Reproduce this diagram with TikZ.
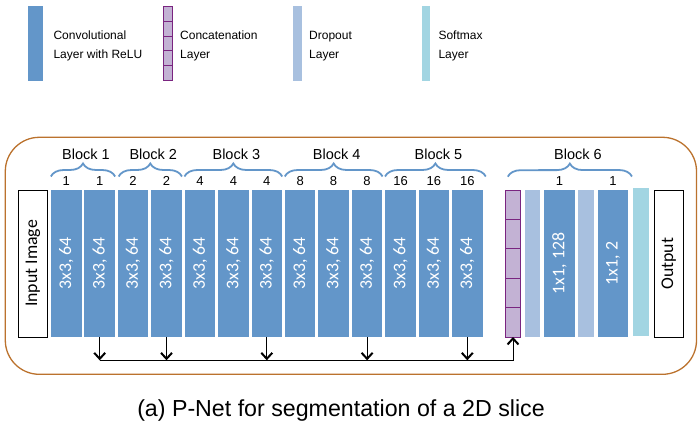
\documentclass[tikz,border=0pt]{standalone}
\usepackage{graphicx}
\usepackage{fontspec}
\setmainfont{Liberation Sans}
\newfontfamily\calibri{Carlito}
\usetikzlibrary{positioning,arrows.meta,decorations.pathreplacing}
\definecolor{convblue}{RGB}{99,150,201}
\definecolor{catfill}{RGB}{195,178,212}
\definecolor{catborder}{RGB}{122,36,128}
\definecolor{dropblue}{RGB}{168,192,223}
\definecolor{softblue}{RGB}{162,213,226}
\definecolor{framebrown}{RGB}{187,114,45}
\tikzset{
	conv/.style={fill=convblue,minimum width=30.5pt,minimum height=147pt,inner sep=0pt,
		text=white,font=\calibri\fontsize{17.8}{20}\selectfont},
	catcell/.style={draw=catborder,fill=catfill,line width=0.8pt,minimum width=15.4pt,
		minimum height=29.4pt,inner sep=0pt,outer sep=0pt},
	lcat/.style={catcell,minimum width=8.3pt,minimum height=14.94pt},
	drop/.style={fill=dropblue,minimum width=15.3pt,minimum height=147pt,inner sep=0pt},
	soft/.style={fill=softblue,minimum width=16pt,minimum height=147.7pt,inner sep=0pt},
	inbox/.style={draw,line width=0.9pt,minimum width=29.4pt,minimum height=147pt,inner sep=0pt,
		font=\calibri\fontsize{17.8}{20}\selectfont},
	frame/.style={draw=framebrown,line width=1.3pt,rounded corners=34pt,minimum width=691.2pt,
		minimum height=237pt,inner sep=0pt},
	brace/.style={decorate,decoration={brace,amplitude=13pt},draw=convblue,line width=1.8pt},
	blk/.style={font=\fontsize{14.5}{17}\selectfont,anchor=base,inner sep=0pt,yshift=17.4pt,xshift=3pt},
	num/.style={font=\fontsize{13}{15}\selectfont,anchor=base,inner sep=0pt},
	legtext/.style={anchor=west,align=left,inner sep=0pt,font=\fontsize{12}{18.3}\selectfont},
	skiparrow/.style={line width=1pt,-{Straight Barb[length=6pt,width=11pt,line width=2pt]}}
}
\begin{document}
\begin{tikzpicture}[x=1pt,y=1pt]
	\useasboundingbox (0,0) rectangle (700,426);
	% legend
	\node[conv,minimum width=15pt,minimum height=74.7pt] (lconv) at (35.8,382.65) {};
	\node[lcat] (lk1) at (167.9,412.5) {};
	\node[lcat,below=0pt of lk1] (lk2) {};
	\node[lcat,below=0pt of lk2] (lk3) {};
	\node[lcat,below=0pt of lk3] (lk4) {};
	\node[lcat,below=0pt of lk4] (lk5) {};
	\node[drop,minimum width=9pt,minimum height=74.7pt] (ldrop) at (297.2,382.65) {};
	\node[soft,minimum width=8.3pt,minimum height=74.7pt] (lsoft) at (426.2,382.65) {};
	\node[legtext] (tconv) at (53.3,380) {Convolutional\\Layer with ReLU};
	\node[legtext] (tcat) at (180,380) {Concatenation\\Layer};
	\node[legtext] (tdrop) at (309,380) {Dropout\\Layer};
	\node[legtext] (tsoft) at (438.3,380) {Softmax\\Layer};
	% network
	\node[frame] (net) at (350.9,170.2) {};
	\node[inbox] (input) at (33,162.5) {\rotatebox{90}{Input Image}};
	\node[conv] (c1) at (66.3,162.5) {\rotatebox{90}{3x3, 64}};
	\node[conv] (c2) at (99.7,162.5) {\rotatebox{90}{3x3, 64}};
	\node[conv] (c3) at (133.1,162.5) {\rotatebox{90}{3x3, 64}};
	\node[conv] (c4) at (166.5,162.5) {\rotatebox{90}{3x3, 64}};
	\node[conv] (c5) at (199.9,162.5) {\rotatebox{90}{3x3, 64}};
	\node[conv] (c6) at (233.4,162.5) {\rotatebox{90}{3x3, 64}};
	\node[conv] (c7) at (266.8,162.5) {\rotatebox{90}{3x3, 64}};
	\node[conv] (c8) at (300.2,162.5) {\rotatebox{90}{3x3, 64}};
	\node[conv] (c9) at (333.6,162.5) {\rotatebox{90}{3x3, 64}};
	\node[conv] (c10) at (367.1,162.5) {\rotatebox{90}{3x3, 64}};
	\node[conv] (c11) at (400.5,162.5) {\rotatebox{90}{3x3, 64}};
	\node[conv] (c12) at (433.9,162.5) {\rotatebox{90}{3x3, 64}};
	\node[conv] (c13) at (467.3,162.5) {\rotatebox{90}{3x3, 64}};
	\node[catcell] (k1) at (513,221.3) {};
	\node[catcell,below=0pt of k1] (k2) {};
	\node[catcell,below=0pt of k2] (k3) {};
	\node[catcell,below=0pt of k3] (k4) {};
	\node[catcell,below=0pt of k4] (k5) {};
	\node[drop] (d1) at (532.5,162.5) {};
	\node[conv,minimum width=31pt] (f1) at (559.5,162.5) {\rotatebox{90}{1x1, 128}};
	\node[drop] (d2) at (585.9,162.5) {};
	\node[conv] (f2) at (613,162.5) {\rotatebox{90}{1x1, 2}};
	\node[soft] (sm) at (641,164.2) {};
	\node[inbox] (output) at (668.8,162.2) {\rotatebox{90}{Output}};
	% dilation numbers
	\node[num] (n1) at ([yshift=4pt]c1.north) {1};
	\node[num] (n2) at ([yshift=4pt]c2.north) {1};
	\node[num] (n3) at ([yshift=4pt]c3.north) {2};
	\node[num] (n4) at ([yshift=4pt]c4.north) {2};
	\node[num] (n5) at ([yshift=4pt]c5.north) {4};
	\node[num] (n6) at ([yshift=4pt]c6.north) {4};
	\node[num] (n7) at ([yshift=4pt]c7.north) {4};
	\node[num] (n8) at ([yshift=4pt]c8.north) {8};
	\node[num] (n9) at ([yshift=4pt]c9.north) {8};
	\node[num] (n10) at ([yshift=4pt]c10.north) {8};
	\node[num] (n11) at ([yshift=4pt]c11.north) {16};
	\node[num] (n12) at ([yshift=4pt]c12.north) {16};
	\node[num] (n13) at ([yshift=4pt]c13.north) {16};
	\node[num] (n14) at ([yshift=4pt]f1.north) {1};
	\node[num] (n15) at ([yshift=4pt]f2.north) {1};
	% blocks
	\draw[brace] ([yshift=13.3pt]c1.north west) -- node[blk] (b1) {Block 1} ([yshift=13.3pt]c2.north east);
	\draw[brace] ([xshift=1pt,yshift=13.3pt]c3.north west) -- node[blk] (b2) {Block 2} ([yshift=13.3pt]c4.north east);
	\draw[brace] ([yshift=13.3pt]c5.north west) -- node[blk] (b3) {Block 3} ([yshift=13.3pt]c7.north east);
	\draw[brace] ([yshift=13.3pt]c8.north west) -- node[blk] (b4) {Block 4} ([yshift=13.3pt]c10.north east);
	\draw[brace] ([yshift=13.3pt]c11.north west) -- node[blk] (b5) {Block 5} ([xshift=3pt,yshift=13.3pt]c13.north east);
	\draw[brace] ([xshift=2.5pt,yshift=13.3pt]k1.north west) -- node[blk,xshift=5pt] (b6) {Block 6} ([xshift=3.5pt,yshift=13.3pt]f2.north east);
	% skip connections
	\coordinate (S) at (0,65.7);
	\draw[skiparrow] (c2.south) -- (c2.south |- S);
	\draw[skiparrow] (c4.south) -- (c4.south |- S);
	\draw[skiparrow] (c7.south) -- (c7.south |- S);
	\draw[skiparrow] (c10.south) -- (c10.south |- S);
	\draw[skiparrow] (c13.south) -- (c13.south |- S);
	\draw[skiparrow] (c2.south |- S) -- (k5.south |- S) -- (k5.south);
	% caption
	\node[font=\fontsize{23.2}{26}\selectfont,anchor=base,inner sep=0pt] (caption) at (341,9.5) {(a) P-Net for segmentation of a 2D slice};
\end{tikzpicture}
\end{document}
